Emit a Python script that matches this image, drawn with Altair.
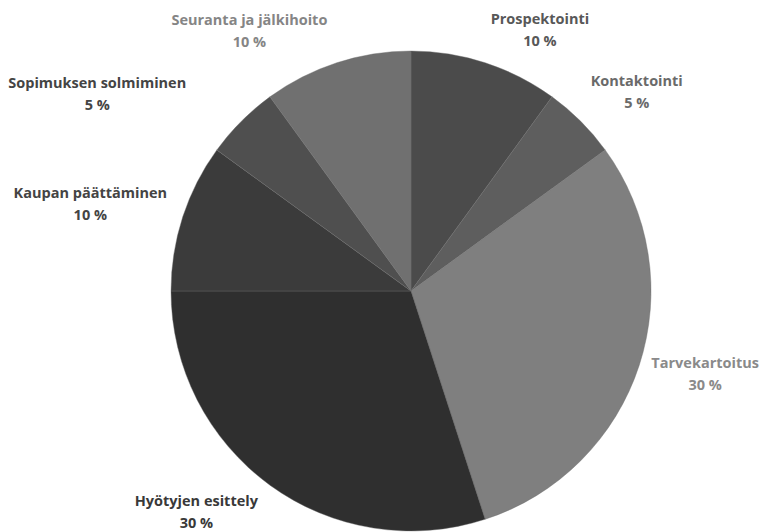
import altair as alt
import pandas as pd
import math

categories = ["Prospektointi", "Kontaktointi", "Tarvekartoitus", "Hyötyjen esittely",
              "Kaupan päättäminen", "Sopimuksen solmiminen", "Seuranta ja jälkihoito"]
shares = [10, 5, 30, 30, 10, 5, 10]
slice_colors = ["#4b4b4b", "#5e5e5e", "#7f7f7f", "#2f2f2f", "#3b3b3b", "#4f4f4f", "#707070"]
label_colors = ["#585858", "#6a6a6a", "#8a8a8a", "#393939", "#444444", "#444444", "#858585"]
# label placement (angle in degrees clockwise from top, distance from centre in px)
label_angle = [26.4, 48.8, 106.0, 224.0, 285.0, 302.0, 328.0]
label_radius = [290, 300, 306, 309, 332, 370, 305]

df = pd.DataFrame({
    "cat": categories,
    "share": shares,
    "idx": list(range(len(categories))),
    "col": slice_colors,
    "lcol": label_colors,
    "label": [f"{c}\n{s} %" for c, s in zip(categories, shares)],
    "ltheta": [a * math.pi / 180 for a in label_angle],
    "lr": label_radius,
})

cx, cy = 411, 291

pie = alt.Chart(df).mark_arc(outerRadius=240, stroke="#6a6a6a", strokeWidth=0.4).encode(
    theta=alt.Theta("share:Q", stack=True),
    order=alt.Order("idx:Q"),
    color=alt.Color("col:N", scale=None),
    x=alt.value(cx),
    y=alt.value(cy),
)

labels = alt.Chart(df).mark_text(
    font="Open Sans", fontWeight="bold", fontSize=14.5, lineBreak="\n", lineHeight=22,
    align="center", baseline="middle", dy=-11,
).encode(
    theta=alt.Theta("ltheta:Q", scale=None),
    radius=alt.Radius("lr:Q", scale=None),
    text="label:N",
    color=alt.Color("lcol:N", scale=None),
    x=alt.value(cx),
    y=alt.value(cy),
)

chart = alt.layer(pie, labels).properties(
    width=761, height=532, padding=0, autosize=alt.AutoSizeParams(type="none"),
    background="white",
).configure_view(stroke=None)

chart.save("out.html", embed_options={"renderer": "svg", "actions": False})
